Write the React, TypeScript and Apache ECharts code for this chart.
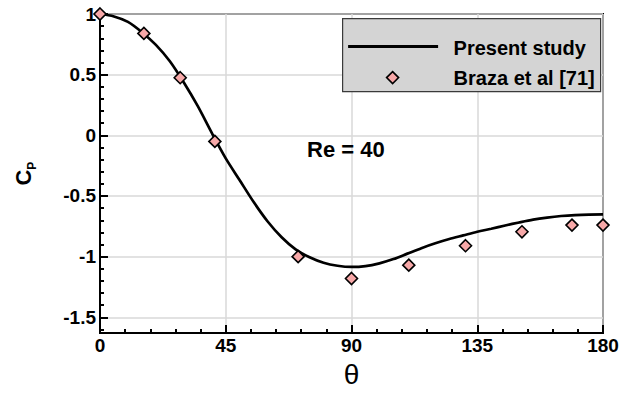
import React, { useEffect, useRef } from "react";
import * as echarts from "echarts";

// Present study: Cp along the cylinder surface
const thetaCurve = [0, 5, 10, 15, 20, 25, 30, 35, 40, 45, 50, 55, 60, 65, 70, 75, 80, 85, 90, 95, 100, 105, 110, 115, 120, 125, 130, 135, 140, 145, 150, 155, 160, 165, 170, 175, 180];
const cpCurve = [1.0, 0.98, 0.935, 0.85, 0.745, 0.61, 0.435, 0.24, 0.02, -0.19, -0.37, -0.55, -0.71, -0.84, -0.94, -1.005, -1.05, -1.075, -1.085, -1.078, -1.055, -1.02, -0.975, -0.93, -0.89, -0.855, -0.825, -0.795, -0.77, -0.743, -0.718, -0.695, -0.678, -0.665, -0.657, -0.653, -0.652];

// Braza et al [71]
const thetaBraza = [0, 15.7, 28.7, 41.1, 70.9, 90, 110.5, 130.8, 151, 168.9, 180];
const cpBraza = [1.0, 0.84, 0.475, -0.05, -1.0, -1.18, -1.07, -0.91, -0.795, -0.74, -0.74];

const xTickValues = [0, 45, 90, 135, 180];
const yMinorTicks = [-1.6, -1.4, -1.3, -1.2, -1.1, -0.9, -0.8, -0.7, -0.6, -0.4, -0.3, -0.2, -0.1, 0.1, 0.2, 0.3, 0.4, 0.6, 0.7, 0.8, 0.9];

const seriesNames = ["Present study", "Braza et al [71]"];
const annotation = "Re = 40";

const FONT = "'Liberation Sans', Arial, Helvetica, sans-serif";
const PINK = "#f7a8a8";

export default function App() {
  const ref = useRef<HTMLDivElement>(null);

  useEffect(() => {
    if (!ref.current) return;
    const chart = echarts.init(ref.current, null, { renderer: "svg" });
    const option: any = {
      animation: false,
      backgroundColor: "#ffffff",
      textStyle: { fontFamily: FONT },
      grid: {
        left: 100,
        right: 29,
        top: 14,
        bottom: 58,
        show: true,
        borderColor: "#000",
        borderWidth: 2,
        backgroundColor: "transparent",
      },
      xAxis: {
        type: "value",
        min: xTickValues[0],
        max: xTickValues[xTickValues.length - 1],
        interval: 45,
        name: "θ",
        nameLocation: "middle",
        nameGap: 26,
        nameTextStyle: { fontSize: 28, color: "#000", fontFamily: FONT },
        axisLine: { onZero: false, lineStyle: { color: "#000", width: 2 } },
        axisTick: { inside: true, length: 8, lineStyle: { color: "#000", width: 2 } },
        minorTick: { show: true, splitNumber: 5, length: 4, lineStyle: { color: "#000", width: 2 } },
        axisLabel: { margin: 3, fontSize: 19, fontWeight: "bold", color: "#000", fontFamily: FONT },
        splitLine: { show: true, lineStyle: { color: "#d9d9d9", width: 1.5 } },
      },
      yAxis: [
        {
          type: "value",
          min: -1.63,
          max: 1,
          splitNumber: 5,
          name: "{c|C}{p|P}",
          nameLocation: "middle",
          nameRotate: 90,
          nameGap: 62,
          nameTextStyle: {
            rich: {
              c: { fontSize: 22, fontWeight: "bold", color: "#000", lineHeight: 26, verticalAlign: "top", fontFamily: FONT },
              p: { fontSize: 12, fontWeight: "bold", color: "#000", lineHeight: 4, verticalAlign: "bottom", fontFamily: FONT },
            },
          },
          axisLine: { show: true, onZero: false, lineStyle: { color: "#000", width: 2 } },
          axisTick: { inside: true, length: 8, lineStyle: { color: "#000", width: 2 } },
          axisLabel: { margin: 4, fontSize: 19, fontWeight: "bold", color: "#000", fontFamily: FONT, showMinLabel: false },
          splitLine: { show: true, lineStyle: { color: "#d9d9d9", width: 1.5 } },
        },
        {
          type: "value",
          min: -1.63,
          max: 1,
          position: "left",
          axisLine: { show: false, onZero: false },
          axisTick: { show: true, inside: true, length: 4, customValues: yMinorTicks, lineStyle: { color: "#000", width: 2 } },
          axisLabel: { show: false },
          splitLine: { show: false },
        },
      ],
      series: [
        {
          name: seriesNames[0],
          type: "line",
          data: thetaCurve.map((t, i) => [t, cpCurve[i]]),
          showSymbol: false,
          smooth: 0.3,
          lineStyle: { color: "#000", width: 2.7 },
          z: 3,
        },
        {
          name: seriesNames[1],
          type: "scatter",
          data: thetaBraza.map((t, i) => [t, cpBraza[i]]),
          symbol: "diamond",
          symbolSize: 12,
          clip: false,
          itemStyle: { color: PINK, borderColor: "#000", borderWidth: 1.6, opacity: 1 },
          z: 5,
        },
      ],
      graphic: [
        {
          type: "text",
          left: 307,
          top: 138,
          z: 50,
          style: { text: annotation, fill: "#000", font: `bold 22px ${FONT}` },
        },
        {
          type: "group",
          left: 342,
          top: 18,
          z: 100,
          children: [
            {
              type: "rect",
              z: 100,
              shape: { x: 0, y: 0, width: 258, height: 73 },
              style: { fill: "#d4d4d4", stroke: "#3a3a3a", lineWidth: 1.2 },
            },
            {
              type: "line",
              z: 101,
              shape: { x1: 5.5, y1: 28, x2: 95.5, y2: 28 },
              style: { stroke: "#000", lineWidth: 3 },
            },
            {
              type: "polygon",
              z: 101,
              shape: { points: [[50, 53], [56, 59], [50, 65], [44, 59]] },
              style: { fill: PINK, stroke: "#000", lineWidth: 1.6 },
            },
            {
              type: "text",
              z: 101,
              x: 111,
              y: 29,
              style: { text: seriesNames[0], fill: "#000", font: `bold 20px ${FONT}`, verticalAlign: "middle" },
            },
            {
              type: "text",
              z: 101,
              x: 111,
              y: 59,
              style: { text: seriesNames[1], fill: "#000", font: `bold 20px ${FONT}`, verticalAlign: "middle" },
            },
          ],
        },
      ],
    };
    chart.setOption(option);
    return () => chart.dispose();
  }, []);

  return (
    <div
      ref={ref}
      style={{ position: "absolute", left: 0, top: 0, width: 632, height: 393, background: "#fff" }}
    />
  );
}
